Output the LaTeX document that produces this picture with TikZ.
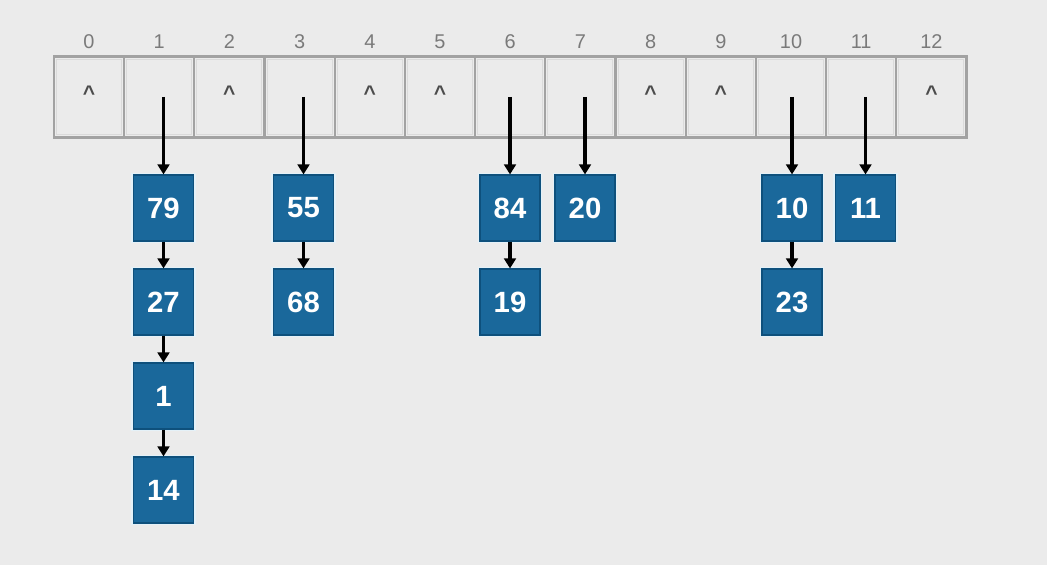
\documentclass[tikz,border=0pt]{standalone}
\usepackage{fontspec}
\setmainfont{Liberation Sans}
\usepackage{xcolor}
\usepackage{tikz}
\usetikzlibrary{arrows.meta}
\usetikzlibrary{positioning}

\definecolor{bgray}{HTML}{EBEBEB}
\definecolor{cellline}{HTML}{A2A2A2}
\definecolor{cellinner}{HTML}{DADADA}
\definecolor{boxblue}{HTML}{1A689B}
\definecolor{boxedge}{HTML}{0E507C}
\definecolor{boxglow}{HTML}{E4F1F8}
\definecolor{idxgray}{HTML}{7A7A7A}

\tikzset{
	cell/.style={draw=cellline, line width=1.8pt, fill=bgray,
		minimum width=2.106cm, minimum height=2.43cm, inner sep=0pt},
	inner/.style={draw=cellinner, line width=0.8pt,
		minimum width=1.95cm, minimum height=2.27cm, inner sep=0pt},
	idx/.style={text=idxgray, font=\fontsize{17}{18}\selectfont},
	nul/.style={text=black!70, font=\fontsize{18}{20}\selectfont\bfseries},
	item/.style={draw=boxedge, line width=1pt, fill=boxblue, text=white,
		preaction={draw=boxglow, line width=3.5pt},
		minimum width=1.8cm, minimum height=1.98cm, inner sep=0pt,
		font=\fontsize{25}{26}\selectfont\bfseries},
	ptr/.style={line width=2.6pt, -{Triangle[width=10pt,length=8.5pt]}}
}

\begin{document}
\begin{tikzpicture}[x=0.03cm, y=-0.03cm]

	\fill[bgray] (0,0) rectangle (1047,565);
	\useasboundingbox (0,0) rectangle (1047,565);

	\def\w{70.2}
	\def\xo{89}

	% the table with its indices
	\foreach \i in {0, 1, ..., 12}
		{
			\pgfmathsetmacro{\x}{\xo + \i*\w}
			\node[cell] (c\i) at (\x, 97) {};
			\node[inner] (n\i) at (c\i.center) {};
			\node[idx] (l\i) at (\x, 42) {\i};
		}

	% empty slots
	\foreach \i in {0, 2, 4, 5, 8, 9, 12}
		\node[nul] (e\i) at ([yshift=0.1cm]c\i.center) {\^{}};

	% chains
	\foreach \col/\x/\vals in {1/163.5/{79,27,1,14}, 3/303.5/{55,68},
		6/510/{84,19}, 7/585/{20}, 10/792/{10,23}, 11/865.5/{11}}
		{
			\foreach \v [count=\k] in \vals
				{
					\pgfmathsetmacro{\y}{208 + (\k-1)*94}
					\node[item] (b\col-\k) at (\x, \y) {\v};
				}
			\draw[ptr] (c\col.center -| b\col-1.north) -- (b\col-1.north);
		}

	\foreach \col/\k/\m in {1/1/2, 1/2/3, 1/3/4, 3/1/2, 6/1/2, 10/1/2}
		\draw[ptr] (b\col-\k.south) -- (b\col-\m.north);

\end{tikzpicture}
\end{document}
